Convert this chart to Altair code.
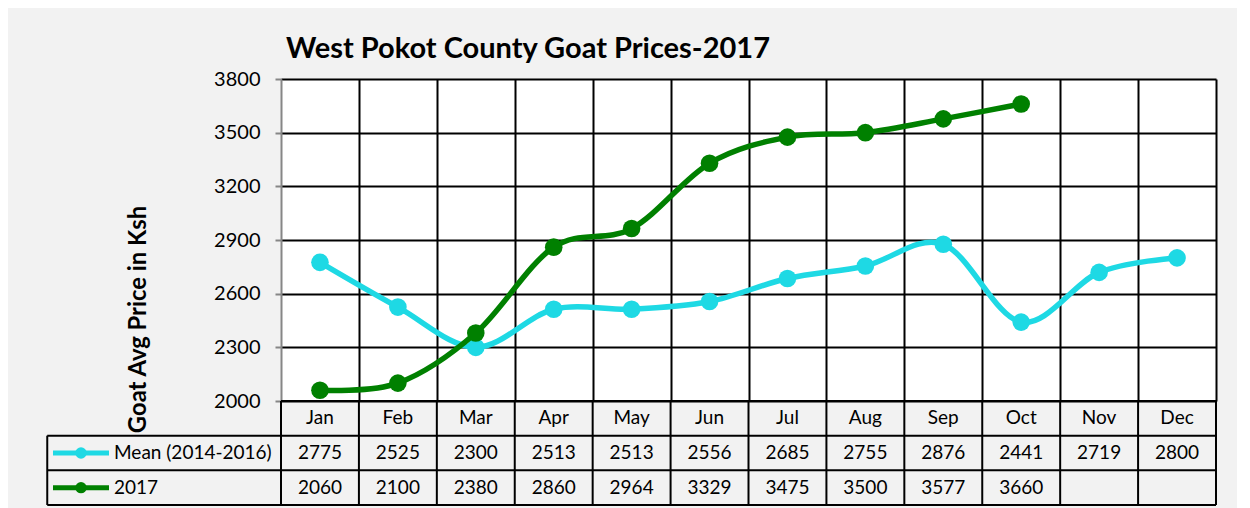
import altair as alt
import pandas as pd

months = ["Jan", "Feb", "Mar", "Apr", "May", "Jun", "Jul", "Aug", "Sep", "Oct", "Nov", "Dec"]
mean_2014_2016 = [2775, 2525, 2300, 2513, 2513, 2556, 2685, 2755, 2876, 2441, 2719, 2800]
prices_2017 = [2060, 2100, 2380, 2860, 2964, 3329, 3475, 3500, 3577, 3660, None, None]
series_names = ["Mean (2014-2016)", "2017"]
series_colors = ["#1ED9E4", "#008000"]
y_ticks = [2000, 2300, 2600, 2900, 3200, 3500, 3800]
title_text = "West Pokot County Goat Prices-2017"
y_title = "Goat Avg Price in Ksh"

FONT = "Lato"
W, H = 935, 322
TH = 104
n = len(months)

rows = []
for si, (s, vals) in enumerate(zip(series_names, [mean_2014_2016, prices_2017])):
    for i, m in enumerate(months):
        rows.append({"month": m, "pos": i + 0.5, "series": s, "row": si + 1.5,
                     "value": vals[i]})
df = pd.DataFrame(rows)
df_valid = df.dropna(subset=["value"]).copy()
df_valid["label"] = df_valid["value"].astype(int).astype(str)

color_scale = alt.Scale(domain=series_names, range=series_colors)
xscale = alt.Scale(domain=[0, n], nice=False, zero=False)

# ---------- top: line chart ----------
base = alt.Chart(df_valid)
x_enc = alt.X("pos:Q", scale=xscale,
              axis=alt.Axis(values=list(range(1, n + 1)), grid=True, gridColor="black",
                            gridWidth=2, labels=False, ticks=False, domain=False, title=None))
y_enc = alt.Y("value:Q", scale=alt.Scale(domain=[y_ticks[0], y_ticks[-1]], nice=False, zero=False),
              axis=alt.Axis(values=y_ticks, format="d", grid=True, gridColor="black", gridWidth=2,
                            domainColor="#868686", domainWidth=2, tickColor="#868686",
                            tickSize=6, tickWidth=2, labelFont=FONT, labelFontSize=20,
                            labelColor="black", labelPadding=15, title=y_title,
                            titleFont=FONT, titleFontSize=23.8, titleFontWeight="bold",
                            titleColor="black", titleX=-131, titleY=240, titleAngle=270,
                            titleAlign="center", titleBaseline="bottom"))

layers = []
for s in series_names:
    sub = base.transform_filter(alt.datum.series == s)
    layers.append(sub.mark_line(interpolate="cardinal", strokeWidth=5.5).encode(
        x=x_enc, y=y_enc, color=alt.Color("series:N", scale=color_scale, legend=None)))
    layers.append(sub.mark_circle(size=310, opacity=1).encode(
        x=x_enc, y=y_enc, color=alt.Color("series:N", scale=color_scale, legend=None)))

top = alt.layer(*layers).properties(
    width=W, height=H,
    view=alt.ViewBackground(fill="white", stroke=None),
    title=alt.TitleParams(title_text, anchor="start", frame="group", dx=5, font=FONT,
                          fontSize=29, fontWeight="bold", color="black", offset=5),
)

# ---------- bottom: data table ----------
tx = alt.X("pos:Q", scale=xscale, axis=None)
ty_scale = alt.Scale(domain=[0, 3], reverse=True, nice=False, zero=False)

hdr = pd.DataFrame({"month": months, "pos": [i + 0.5 for i in range(n)], "row": 0.5})
vlines = pd.DataFrame({"x": list(range(0, n + 1)) + [-3],
                       "y": [0] * (n + 1) + [1], "y2": [3] * (n + 2)})
hlines = pd.DataFrame({"y": [0, 1, 2, 3], "x": [0, -3, -3, -3], "x2": [n] * 4})
leg = pd.DataFrame({"series": series_names, "row": [1.5, 2.5]})

TFS = 19
vrule = alt.Chart(vlines).mark_rule(color="black", strokeWidth=2).encode(
    x=alt.X("x:Q", scale=xscale, axis=None),
    y=alt.Y("y:Q", scale=ty_scale, axis=None), y2="y2:Q")
hrule = alt.Chart(hlines).mark_rule(color="black", strokeWidth=2).encode(
    x=alt.X("x:Q", scale=xscale, axis=None), x2="x2:Q",
    y=alt.Y("y:Q", scale=ty_scale, axis=None))
hdr_text = alt.Chart(hdr).mark_text(font=FONT, fontSize=TFS, color="black", baseline="middle").encode(
    x=tx, y=alt.Y("row:Q", scale=ty_scale, axis=None), text="month:N")
val_text = alt.Chart(df_valid).mark_text(font=FONT, fontSize=TFS, color="black", baseline="middle").encode(
    x=tx, y=alt.Y("row:Q", scale=ty_scale, axis=None), text="label:N")
leg_line = alt.Chart(leg).mark_rule(strokeWidth=5).encode(
    x=alt.value(-228), x2=alt.value(-172),
    y=alt.Y("row:Q", scale=ty_scale, axis=None),
    color=alt.Color("series:N", scale=color_scale, legend=None))
leg_pt = alt.Chart(leg).mark_circle(size=130, opacity=1).encode(
    x=alt.value(-200), y=alt.Y("row:Q", scale=ty_scale, axis=None),
    color=alt.Color("series:N", scale=color_scale, legend=None))
leg_text = alt.Chart(leg).mark_text(font=FONT, fontSize=TFS, color="black", align="left",
                                    baseline="middle").encode(
    x=alt.value(-167), y=alt.Y("row:Q", scale=ty_scale, axis=None), text="series:N")

table = alt.layer(vrule, hrule, hdr_text, val_text, leg_line, leg_pt, leg_text).properties(
    width=W, height=TH, view=alt.ViewBackground(fill=None, stroke=None))

chart = alt.vconcat(top, table, spacing=0, bounds="flush").properties(
    padding={"left": 38, "top": 27, "right": 20, "bottom": 3},
    background="#f2f2f2",
).configure_view(stroke=None)

chart.save("out.html", embed_options={"renderer": "svg", "actions": False})
